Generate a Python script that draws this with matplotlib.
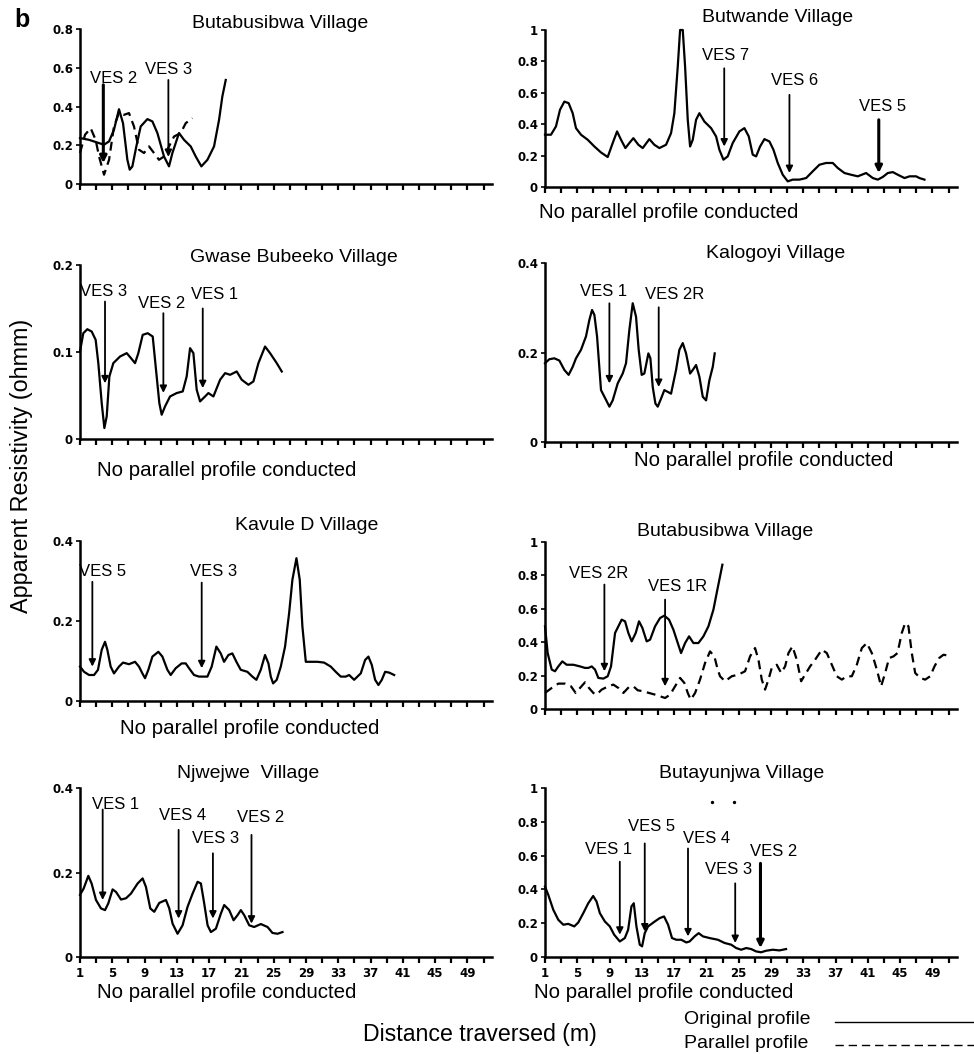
import matplotlib
matplotlib.use("Agg")
import matplotlib.pyplot as plt
from matplotlib.lines import Line2D
from matplotlib.ticker import FixedLocator, FuncFormatter

# ---------------- DATA ----------------
# Panel 1: Butabusibwa Village (top-left)
p1_orig_x = [1.0, 2.12, 3.36, 3.98, 4.60, 5.21, 5.83, 6.33, 6.87, 7.16, 7.49, 7.98, 8.52, 9.35, 9.97, 10.59,
             11.41, 12.03, 12.45, 13.27, 13.89, 14.72, 15.34, 16.04, 16.79, 17.61, 18.23, 18.64, 19.06]
p1_orig_y = [0.237, 0.228, 0.211, 0.203, 0.220, 0.280, 0.386, 0.314, 0.125, 0.074, 0.091, 0.194, 0.297, 0.335,
             0.323, 0.263, 0.142, 0.091, 0.160, 0.263, 0.228, 0.194, 0.142, 0.091, 0.125, 0.194, 0.331, 0.452, 0.537]
p1_par_x = [1.0, 1.62, 2.32, 2.94, 3.36, 3.98, 4.60, 5.21, 5.83, 6.45, 7.07, 7.69, 8.31, 8.93, 9.55, 10.17,
            10.79, 11.41, 12.03, 12.65, 13.48, 14.10, 14.93]
p1_par_y = [0.160, 0.254, 0.288, 0.228, 0.142, 0.048, 0.125, 0.297, 0.366, 0.357, 0.366, 0.297, 0.177, 0.160,
            0.194, 0.160, 0.125, 0.142, 0.194, 0.245, 0.263, 0.314, 0.340]
p1_ves = ["VES 2", "VES 3"]
p1_ves_x = [3.89, 11.95]
p1_ves_top = [0.512, 0.537]
p1_ves_tip = [0.108, 0.14]
p1_lab_x = [5.21, 12.03]
p1_lab_y = [0.547, 0.592]

# Panel 2: Butwande Village
p2_orig_x = [1.0, 1.74, 2.36, 2.86, 3.40, 3.93, 4.43, 4.84, 5.46, 6.29, 7.12, 7.94, 8.77, 9.39, 9.93, 10.42,
             10.96, 11.45, 11.95, 12.57, 13.11, 13.93, 14.55, 15.17, 16.0, 16.62, 17.03, 17.45, 17.74, 18.07,
             18.36, 18.69, 18.98, 19.31, 19.72, 20.13, 20.75, 21.58, 22.20, 22.61, 23.11, 23.64, 24.26, 25.09,
             25.71, 26.25, 26.74, 27.16, 27.65, 28.19, 28.81, 29.31, 29.84, 30.46, 31.08, 31.70, 32.53, 33.36,
             34.18, 35.01, 35.83, 36.66, 37.28, 38.11, 38.93, 39.76, 40.79, 41.62, 42.24, 42.86, 43.48, 44.10,
             44.72, 45.55, 46.17, 46.99, 47.40, 48.02]
p2_orig_y = [0.333, 0.333, 0.386, 0.492, 0.544, 0.534, 0.470, 0.375, 0.333, 0.301, 0.258, 0.220, 0.191, 0.280,
             0.354, 0.301, 0.248, 0.280, 0.311, 0.269, 0.248, 0.305, 0.269, 0.248, 0.269, 0.343, 0.470, 0.767,
             1.0, 1.0, 0.767, 0.428, 0.258, 0.301, 0.428, 0.470, 0.417, 0.375, 0.322, 0.237, 0.174, 0.195, 0.280,
             0.354, 0.375, 0.322, 0.206, 0.195, 0.258, 0.305, 0.290, 0.237, 0.153, 0.078, 0.036, 0.047, 0.047,
             0.057, 0.100, 0.142, 0.153, 0.153, 0.121, 0.089, 0.078, 0.068, 0.089, 0.057, 0.047, 0.064, 0.089,
             0.095, 0.078, 0.057, 0.068, 0.068, 0.057, 0.047]
p2_ves = ["VES 7", "VES 6", "VES 5"]
p2_ves_x = [23.21, 31.29, 42.36]
p2_ves_top = [0.756, 0.587, 0.428]
p2_ves_tip = [0.258, 0.089, 0.089]
p2_lab_x = [23.40, 31.91, 42.86]
p2_lab_y = [0.84, 0.68, 0.51]

# Panel 3: Gwase Bubeeko Village
p3_orig_x = [1.0, 1.41, 1.91, 2.45, 2.94, 3.27, 3.69, 4.02, 4.31, 4.64, 5.13, 5.96, 6.79, 7.32, 7.82, 8.23,
             8.77, 9.39, 10.01, 10.42, 10.83, 11.12, 11.54, 12.16, 12.98, 13.73, 14.22, 14.64, 15.05, 15.46,
             15.88, 16.50, 16.91, 17.53, 18.36, 18.98, 19.60, 20.42, 21.04, 21.87, 22.49, 23.11, 23.93, 24.55,
             25.38, 26.0]
p3_orig_y = [0.1006, 0.1216, 0.1262, 0.1235, 0.1140, 0.0872, 0.0413, 0.0126, 0.0260, 0.0719, 0.0872, 0.0948,
             0.0987, 0.0929, 0.0872, 0.0987, 0.1197, 0.1216, 0.1178, 0.0795, 0.0413, 0.0279, 0.0375, 0.0489,
             0.0528, 0.0547, 0.0719, 0.1044, 0.0987, 0.0566, 0.0432, 0.0489, 0.0528, 0.0489, 0.0681, 0.0757,
             0.0738, 0.0776, 0.0681, 0.0623, 0.0662, 0.0872, 0.1063, 0.0987, 0.0872, 0.0776]
p3_ves = ["VES 3", "VES 2", "VES 1"]
p3_ves_x = [4.10, 11.33, 16.21]
p3_ves_top = [0.158, 0.1446, 0.150]
p3_ves_tip = [0.064, 0.053, 0.0585]
p3_lab_x = [3.89, 11.12, 17.65]
p3_lab_y = [0.169, 0.156, 0.1656]

# Panel 4: Kalogoyi Village
p4_orig_x = [1.0, 1.54, 2.16, 2.78, 3.40, 3.93, 4.43, 4.84, 5.46, 6.08, 6.50, 6.83, 7.12, 7.45, 7.94, 8.48,
             8.98, 9.39, 10.01, 10.63, 11.04, 11.45, 11.87, 12.28, 12.61, 12.98, 13.31, 13.81, 14.06, 14.35,
             14.68, 14.97, 15.38, 15.79, 16.21, 16.62, 17.24, 17.65, 18.07, 18.48, 18.98, 19.31, 19.72, 20.13,
             20.55, 20.96, 21.37, 21.79, 22.03]
p4_orig_y = [0.176, 0.185, 0.187, 0.182, 0.161, 0.150, 0.168, 0.187, 0.206, 0.236, 0.273, 0.295, 0.284, 0.236,
             0.116, 0.097, 0.079, 0.093, 0.131, 0.153, 0.176, 0.250, 0.310, 0.280, 0.206, 0.150, 0.153, 0.198,
             0.187, 0.123, 0.086, 0.079, 0.097, 0.116, 0.112, 0.108, 0.161, 0.206, 0.221, 0.198, 0.153, 0.161,
             0.172, 0.146, 0.101, 0.093, 0.138, 0.168, 0.198]
p4_ves = ["VES 1", "VES 2R"]
p4_ves_x = [8.98, 15.09]
p4_ves_top = [0.310, 0.301]
p4_ves_tip = [0.131, 0.123]
p4_lab_x = [8.23, 17.03]
p4_lab_y = [0.336, 0.329]

# Panel 5: Kavule D Village
p5_orig_x = [1.0, 1.50, 2.12, 2.74, 3.23, 3.69, 4.10, 4.39, 4.80, 5.21, 5.83, 6.33, 7.07, 7.82, 8.31, 8.73,
             9.06, 9.47, 9.97, 10.71, 11.21, 11.83, 12.24, 12.86, 13.60, 14.10, 14.51, 15.13, 15.75, 16.79,
             17.32, 17.90, 18.44, 18.85, 19.39, 19.88, 20.38, 20.92, 21.74, 22.36, 22.86, 23.40, 23.93, 24.35,
             24.64, 24.93, 25.38, 25.88, 26.41, 26.91, 27.32, 27.82, 28.23, 28.56, 28.98, 29.60, 30.42, 31.25,
             32.07, 32.69, 33.31, 33.93, 34.35, 34.97, 35.79, 36.33, 36.74, 37.16, 37.57, 37.98, 38.40, 38.81,
             39.31, 39.93]
p5_orig_y = [0.086, 0.073, 0.065, 0.065, 0.078, 0.128, 0.148, 0.128, 0.086, 0.069, 0.086, 0.096, 0.092, 0.098,
             0.086, 0.069, 0.057, 0.078, 0.111, 0.123, 0.111, 0.078, 0.065, 0.082, 0.094, 0.094, 0.082, 0.065,
             0.061, 0.061, 0.086, 0.136, 0.119, 0.098, 0.115, 0.119, 0.098, 0.078, 0.073, 0.061, 0.053, 0.078,
             0.115, 0.094, 0.061, 0.044, 0.053, 0.086, 0.136, 0.219, 0.303, 0.357, 0.303, 0.186, 0.098, 0.098,
             0.098, 0.096, 0.086, 0.073, 0.061, 0.061, 0.065, 0.053, 0.069, 0.1025, 0.111, 0.090, 0.053, 0.040,
             0.053, 0.073, 0.071, 0.065]
p5_ves = ["VES 5", "VES 3"]
p5_ves_x = [2.53, 16.08]
p5_ves_top = [0.298, 0.296]
p5_ves_tip = [0.086, 0.082]
p5_lab_x = [3.77, 17.61]
p5_lab_y = [0.323, 0.323]

# Panel 6: Butabusibwa Village (second)
p6_orig_x = [1.0, 1.33, 1.83, 2.24, 2.65, 3.15, 3.69, 4.51, 5.34, 5.96, 6.37, 6.79, 7.20, 7.61, 8.23, 8.77,
             9.18, 9.68, 10.09, 10.50, 10.92, 11.33, 11.74, 12.24, 12.65, 13.07, 13.60, 14.02, 14.64, 15.26,
             15.79, 16.37, 16.91, 17.45, 17.86, 18.36, 18.85, 19.39, 20.01, 20.63, 21.25, 21.87, 22.36, 22.69,
             22.98]
p6_orig_y = [0.495, 0.335, 0.236, 0.226, 0.255, 0.285, 0.265, 0.265, 0.255, 0.246, 0.246, 0.255, 0.236, 0.186,
             0.182, 0.196, 0.255, 0.455, 0.495, 0.535, 0.525, 0.455, 0.405, 0.455, 0.525, 0.485, 0.405, 0.415,
             0.495, 0.545, 0.559, 0.535, 0.475, 0.395, 0.335, 0.395, 0.435, 0.395, 0.395, 0.435, 0.495, 0.595,
             0.715, 0.794, 0.864]
p6_par_x = [1.0, 1.83, 2.65, 3.48, 4.22, 4.80, 5.34, 5.96, 6.45, 6.99, 7.40, 8.02, 8.85, 9.47, 10.09, 10.71,
            11.41, 11.95, 12.49, 13.19, 13.89, 14.64, 15.26, 15.88, 16.50, 17.12, 17.74, 18.27, 18.69, 19.06,
            19.60, 20.21, 20.83, 21.45, 21.99, 22.40, 22.69, 23.31, 24.14, 24.97, 25.79, 26.41, 27.03, 27.45,
            27.86, 28.27, 28.69, 29.10, 29.72, 30.26, 30.75, 31.17, 31.66, 32.20, 32.74, 33.23, 33.85, 34.47,
            35.30, 35.92, 36.54, 37.16, 37.78, 38.40, 39.02, 39.64, 40.26, 40.88, 41.50, 42.12, 42.65, 43.15,
            43.64, 44.18, 44.68, 45.21, 45.63, 46.04, 46.45, 46.87, 47.49, 48.11, 48.73, 49.26, 49.84, 50.38,
            51.0]
p6_par_y = [0.096, 0.126, 0.152, 0.152, 0.136, 0.096, 0.126, 0.160, 0.126, 0.096, 0.086, 0.116, 0.136, 0.146,
            0.126, 0.096, 0.132, 0.136, 0.112, 0.106, 0.096, 0.086, 0.076, 0.066, 0.086, 0.136, 0.186, 0.156,
            0.096, 0.056, 0.096, 0.176, 0.275, 0.345, 0.315, 0.236, 0.196, 0.166, 0.196, 0.206, 0.226, 0.315,
            0.365, 0.295, 0.176, 0.116, 0.176, 0.246, 0.265, 0.216, 0.255, 0.335, 0.375, 0.295, 0.166, 0.206,
            0.255, 0.295, 0.355, 0.335, 0.265, 0.196, 0.176, 0.196, 0.196, 0.265, 0.365, 0.395, 0.335, 0.236,
            0.136, 0.216, 0.305, 0.315, 0.335, 0.455, 0.515, 0.495, 0.335, 0.216, 0.186, 0.176, 0.196, 0.255,
            0.305, 0.325, 0.319]
p6_ves = ["VES 2R", "VES 1R"]
p6_ves_x = [8.36, 15.88]
p6_ves_top = [0.745, 0.655]
p6_ves_tip = [0.226, 0.136]
p6_lab_x = [7.61, 17.45]
p6_lab_y = [0.81, 0.735]

# Panel 7: Njwejwe Village
p7_orig_x = [1.0, 1.45, 2.03, 2.44, 2.98, 3.60, 4.10, 4.51, 5.04, 5.46, 6.08, 6.70, 7.31, 8.14, 8.76, 9.17,
             9.71, 10.20, 10.82, 11.65, 12.06, 12.47, 13.09, 13.71, 14.33, 14.95, 15.57, 15.98, 16.39, 16.81,
             17.22, 17.84, 18.46, 18.87, 19.49, 20.03, 20.52, 20.93, 21.35, 21.97, 22.58, 23.41, 24.24, 24.85,
             25.47, 26.09]
p7_orig_y = [0.147, 0.162, 0.192, 0.174, 0.135, 0.115, 0.111, 0.127, 0.160, 0.154, 0.136, 0.139, 0.150, 0.174,
             0.186, 0.166, 0.115, 0.107, 0.128, 0.135, 0.115, 0.079, 0.055, 0.075, 0.119, 0.150, 0.178, 0.174,
             0.127, 0.075, 0.059, 0.067, 0.103, 0.123, 0.111, 0.087, 0.099, 0.111, 0.099, 0.075, 0.071, 0.078,
             0.071, 0.057, 0.055, 0.059]
p7_ves = ["VES 1", "VES 4", "VES 3", "VES 2"]
p7_ves_x = [3.81, 13.22, 17.47, 22.25]
p7_ves_top = [0.349, 0.301, 0.2455, 0.289]
p7_ves_tip = [0.135, 0.091, 0.091, 0.079]
p7_lab_x = [5.46, 13.71, 17.84, 23.33]
p7_lab_y = [0.36, 0.334, 0.281, 0.33]

# Panel 8: Butayunjwa Village
p8_orig_x = [1.0, 1.41, 2.03, 2.65, 3.27, 3.88, 4.63, 5.12, 5.74, 6.36, 6.97, 7.39, 7.80, 8.42, 9.03, 9.57,
             10.27, 10.89, 11.30, 11.71, 12.00, 12.33, 12.74, 13.03, 13.36, 13.77, 14.60, 15.21, 15.75, 16.25,
             16.74, 17.28, 17.89, 18.51, 18.92, 19.54, 20.04, 20.57, 21.40, 22.43, 23.25, 24.07, 24.69, 25.31,
             25.93, 26.55, 27.16, 27.78, 28.40, 29.22, 30.05, 30.87]
p8_orig_y = [0.4165, 0.367, 0.279, 0.220, 0.191, 0.196, 0.181, 0.204, 0.259, 0.318, 0.361, 0.328, 0.259, 0.210,
             0.181, 0.132, 0.092, 0.112, 0.161, 0.299, 0.318, 0.181, 0.073, 0.063, 0.141, 0.181, 0.210, 0.230,
             0.240, 0.191, 0.112, 0.102, 0.102, 0.086, 0.092, 0.122, 0.141, 0.122, 0.112, 0.102, 0.083, 0.073,
             0.053, 0.043, 0.053, 0.047, 0.033, 0.028, 0.037, 0.043, 0.039, 0.047]
p8_ves = ["VES 1", "VES 5", "VES 4", "VES 3", "VES 2"]
p8_ves_x = [10.27, 13.36, 18.72, 24.57, 27.70]
p8_ves_top = [0.564, 0.672, 0.642, 0.436, 0.554]
p8_ves_tip = [0.132, 0.151, 0.122, 0.083, 0.053]
p8_lab_x = [8.83, 14.19, 20.99, 23.74, 29.35]
p8_lab_y = [0.636, 0.774, 0.70, 0.515, 0.623]
p8_dots_x = [21.68, 24.40]
p8_dots_y = [0.92, 0.92]

titles = ["Butabusibwa Village", "Butwande Village", "Gwase Bubeeko Village", "Kalogoyi Village",
          "Kavule D Village", "Butabusibwa Village", "Njwejwe  Village", "Butayunjwa Village"]
y_ticks = [[0, 0.2, 0.4, 0.6, 0.8], [0, 0.2, 0.4, 0.6, 0.8, 1], [0, 0.1, 0.2], [0, 0.2, 0.4],
           [0, 0.2, 0.4], [0, 0.2, 0.4, 0.6, 0.8, 1], [0, 0.2, 0.4], [0, 0.2, 0.4, 0.6, 0.8, 1]]
y_tick_labels = [["0", "0.2", "0.4", "0.6", "0.8"], ["0", "0.2", "0.4", "0.6", "0.8", "1"],
                 ["0", "0.1", "0.2"], ["0", "0.2", "0.4"], ["0", "0.2", "0.4"],
                 ["0", "0.2", "0.4", "0.6", "0.8", "1"], ["0", "0.2", "0.4"],
                 ["0", "0.2", "0.4", "0.6", "0.8", "1"]]
x_ticks = list(range(1, 52, 2))
x_tick_labels_shown = list(range(1, 50, 4))
no_parallel_text = "No parallel profile conducted"
x_label = "Distance traversed (m)"
y_label = "Apparent Resistivity (ohmm)"
legend_labels = ["Original profile", "Parallel profile"]

# ---------------- LAYOUT ----------------
W, H = 974, 1054
fig = plt.figure(figsize=(W / 100, H / 100), dpi=100)
fig.patch.set_facecolor("white")
FONT = "Liberation Sans"
PXU = 8.07  # pixels per x unit


def fx(px):
    return px / W


def fy(py):
    return 1 - py / H


def make_ax(left_px, y0_px, ytop_px, ymax, ticks, ticklabels, show_xlabels):
    width_px = 51 * PXU
    ax = fig.add_axes([fx(left_px), fy(y0_px), width_px / W, (y0_px - ytop_px) / H])
    ax.set_xlim(1, 52)
    ax.set_ylim(0, ymax)
    for s in ["top", "right"]:
        ax.spines[s].set_visible(False)
    ax.spines["left"].set_linewidth(1.8)
    ax.spines["bottom"].set_linewidth(1.8)
    ax.xaxis.set_major_locator(FixedLocator(x_ticks))
    if show_xlabels:
        ax.xaxis.set_major_formatter(FuncFormatter(
            lambda v, p: str(int(round(v))) if int(round(v)) in x_tick_labels_shown else ""))
    else:
        ax.set_xticklabels([])
    ax.set_yticks(ticks)
    ax.set_yticklabels(ticklabels)
    ax.tick_params(axis="x", direction="out", length=4, width=1.6, pad=3)
    ax.tick_params(axis="y", direction="out", length=3, width=1.2, pad=2)
    for lab in ax.get_xticklabels() + ax.get_yticklabels():
        lab.set_fontfamily("DejaVu Sans")
        lab.set_fontweight("bold")
        lab.set_fontsize(8.5)
    ax.patch.set_alpha(0)
    return ax


def draw_ves(ax, names, xs, tops, tips, lxs, lys, bold_idx=()):
    for i, (n, x, t, b, lx, ly) in enumerate(zip(names, xs, tops, tips, lxs, lys)):
        lw = 2.2 if i in bold_idx else 1.3
        ax.annotate("", xy=(x, b), xytext=(x, t),
                    arrowprops=dict(arrowstyle="-|>", color="black", lw=lw,
                                    mutation_scale=10, shrinkA=0, shrinkB=0),
                    annotation_clip=False)
        ax.text(lx, ly, n, ha="center", va="center", fontsize=12, family=FONT, clip_on=False)


LW = 1.6
axes_spec = [
    (80, 184, 29, 0.8), (545, 187, 30, 1.0),
    (80, 439, 265, 0.2), (545, 442, 263, 0.4),
    (80, 701, 541, 0.4), (545, 709, 542, 1.0),
    (80, 957, 788, 0.4), (545, 957, 788, 1.0),
]
axs = []
for i, (l, y0, yt, ym) in enumerate(axes_spec):
    axs.append(make_ax(l, y0, yt, ym, y_ticks[i], y_tick_labels[i], i >= 6))

# Panel 1
axs[0].plot(p1_orig_x, p1_orig_y, color="black", lw=LW, clip_on=False)
axs[0].plot(p1_par_x, p1_par_y, color="black", lw=LW, ls=(0, (4, 2.5)), clip_on=False)
draw_ves(axs[0], p1_ves, p1_ves_x, p1_ves_top, p1_ves_tip, p1_lab_x, p1_lab_y, bold_idx=(0,))
# Panel 2
axs[1].plot(p2_orig_x, p2_orig_y, color="black", lw=LW, clip_on=False)
draw_ves(axs[1], p2_ves, p2_ves_x, p2_ves_top, p2_ves_tip, p2_lab_x, p2_lab_y, bold_idx=(2,))
# Panel 3
axs[2].plot(p3_orig_x, p3_orig_y, color="black", lw=LW, clip_on=False)
draw_ves(axs[2], p3_ves, p3_ves_x, p3_ves_top, p3_ves_tip, p3_lab_x, p3_lab_y)
# Panel 4
axs[3].plot(p4_orig_x, p4_orig_y, color="black", lw=LW, clip_on=False)
draw_ves(axs[3], p4_ves, p4_ves_x, p4_ves_top, p4_ves_tip, p4_lab_x, p4_lab_y)
# Panel 5
axs[4].plot(p5_orig_x, p5_orig_y, color="black", lw=LW, clip_on=False)
draw_ves(axs[4], p5_ves, p5_ves_x, p5_ves_top, p5_ves_tip, p5_lab_x, p5_lab_y)
# Panel 6
axs[5].plot(p6_orig_x, p6_orig_y, color="black", lw=LW, clip_on=False)
axs[5].plot(p6_par_x, p6_par_y, color="black", lw=LW, ls=(0, (4, 2.5)), clip_on=False)
draw_ves(axs[5], p6_ves, p6_ves_x, p6_ves_top, p6_ves_tip, p6_lab_x, p6_lab_y)
# Panel 7
axs[6].plot(p7_orig_x, p7_orig_y, color="black", lw=LW, clip_on=False)
draw_ves(axs[6], p7_ves, p7_ves_x, p7_ves_top, p7_ves_tip, p7_lab_x, p7_lab_y)
# Panel 8
axs[7].plot(p8_orig_x, p8_orig_y, color="black", lw=LW, clip_on=False)
axs[7].scatter(p8_dots_x, p8_dots_y, s=2, color="black", clip_on=False)
draw_ves(axs[7], p8_ves, p8_ves_x, p8_ves_top, p8_ves_tip, p8_lab_x, p8_lab_y, bold_idx=(4,))

# Titles (pixel centres)
title_pos = [(280, 23), (778, 18), (294, 257), (776, 254), (307, 525), (725, 531), (248, 773), (742, 773)]
for t, (px, py) in zip(titles, title_pos):
    fig.text(fx(px), fy(py), t, ha="center", va="center", fontsize=14, family=FONT)

# "No parallel profile conducted"
np_pos = [(669, 212), (227, 471), (764, 460), (250, 728), (227, 993), (664, 993)]
for px, py in np_pos:
    fig.text(fx(px), fy(py), no_parallel_text, ha="center", va="center", fontsize=14.8, family=FONT)

# Panel letter
fig.text(fx(22), fy(20), "b", ha="center", va="center", fontsize=18, fontweight="bold", family=FONT)

# Axis labels
fig.text(fx(480), fy(1034), x_label, ha="center", va="center", fontsize=16.7, family=FONT)
fig.text(fx(22), fy(466), y_label, ha="center", va="center", rotation=90, fontsize=16.8, family=FONT)

# Legend
fig.text(fx(684), fy(1019), legend_labels[0], ha="left", va="center", fontsize=14, family=FONT)
fig.text(fx(684), fy(1043), legend_labels[1], ha="left", va="center", fontsize=14, family=FONT)
fig.add_artist(Line2D([fx(835), fx(974)], [fy(1022), fy(1022)], color="black", lw=1.0,
                      transform=fig.transFigure))
fig.add_artist(Line2D([fx(835), fx(974)], [fy(1045), fy(1045)], color="black", lw=1.0,
                      ls=(0, (6, 3.5)), transform=fig.transFigure))

fig.savefig("out.png", dpi=100, facecolor="white")
